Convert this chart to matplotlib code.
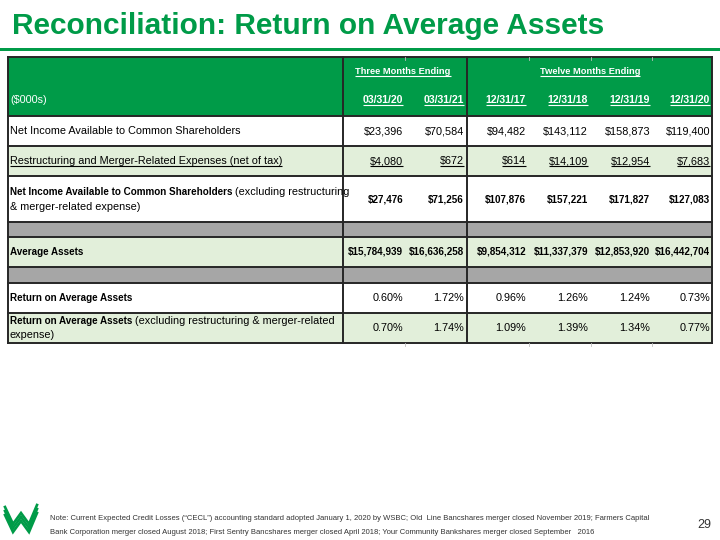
import matplotlib
matplotlib.use("Agg")
import matplotlib.pyplot as plt
from matplotlib.patches import Rectangle

# data
periods = ["03/31/20", "03/31/21", "12/31/17", "12/31/18", "12/31/19", "12/31/20"]
groups = ["Three Months Ending", "Twelve Months Ending"]
net_income = [23396, 70584, 94482, 143112, 158873, 119400]
merger_exp = [4080, 672, 614, 14109, 12954, 7683]
net_income_adj = [27476, 71256, 107876, 157221, 171827, 127083]
avg_assets = [15784939, 16636258, 9854312, 11337379, 12853920, 16442704]
roaa = [0.60, 1.72, 0.96, 1.26, 1.24, 0.73]
roaa_adj = [0.70, 1.74, 1.09, 1.39, 1.34, 0.77]

GREEN = "#009B48"
LIGHT = "#E2EFDA"
GRAY = "#A6A6A6"
EDGE = "#262626"
FONT = ["Liberation Sans", "DejaVu Sans"]
FS = 7.8    # normal text
FSB = 7.1   # bold text

fig = plt.figure(figsize=(7.2, 5.4), dpi=100)
ax = fig.add_axes([0, 0, 1, 1])
ax.set_xlim(0, 720)
ax.set_ylim(540, 0)
ax.axis("off")
renderer = fig.canvas.get_renderer()


def bbox(t):
    return t.get_window_extent(renderer).transformed(ax.transData.inverted())


def underline(t, color, lw=0.8):
    b = bbox(t)
    y = max(b.y0, b.y1) - 0.5
    ax.plot([b.x0, b.x1], [y, y], color=color, lw=lw, solid_capstyle="butt")


def txt(x, y, s, ha="left", bold=False, color="black", size=None, ul=False):
    if size is None:
        size = FSB if bold else FS
    t = ax.text(x, y, s, ha=ha, va="center", fontsize=size, family=FONT,
                fontweight="bold" if bold else "normal", color=color)
    if ul:
        underline(t, color)
    return t


def mixed(x, y, bold_part, rest):
    t = txt(x, y, bold_part, bold=True)
    b = bbox(t)
    txt(b.x1, y, rest)


# title
ax.text(12, 26, "Reconciliation: Return on Average Assets", ha="left", va="center",
        fontsize=21.5, fontweight="bold", color=GREEN,
        family=["Liberation Sans Narrow", "Liberation Sans", "DejaVu Sans"])
ax.add_patch(Rectangle((0, 47.5), 720, 3.5, color=GREEN, lw=0))

# table geometry
left, right = 8, 712
div1, div2 = 343, 467
col_right = [403, 464, 526, 588, 650, 710]
rows = [  # (top, bottom, fill)
    (57, 116, GREEN),
    (116, 146, "white"),
    (146, 176, LIGHT),
    (176, 222, "white"),
    (222, 237, GRAY),
    (237, 267, LIGHT),
    (267, 283, GRAY),
    (283, 313, "white"),
    (313, 343, LIGHT),
]
for top, bot, fc in rows:
    ax.add_patch(Rectangle((left, top), right - left, bot - top, facecolor=fc, lw=0))
for top, bot, fc in rows:
    ax.plot([left, right], [top, top], color=EDGE, lw=1.4)
ax.plot([left, right], [343, 343], color=EDGE, lw=1.4)
for x in [left, div1, div2, right]:
    ax.plot([x, x], [57, 343], color=EDGE, lw=1.4)
# faint column ticks at the top and bottom edges
for x in [405, 529, 591, 652]:
    ax.plot([x, x], [57, 60], color="#BFBFBF", lw=0.6)
    ax.plot([x, x], [343, 346], color="#BFBFBF", lw=0.6)

# header
txt(403, 72, groups[0], ha="center", bold=True, color="white", size=6.7, ul=True)
txt(590, 72, groups[1], ha="center", bold=True, color="white", size=6.7, ul=True)
txt(10, 100, "($000s)", color="white")
for xr, p in zip(col_right, periods):
    txt(xr, 100, p, ha="right", bold=True, color="white", size=7.6, ul=True)

# body
txt(10, 131, "Net Income Available to Common Shareholders")
txt(10, 161, "Restructuring and Merger-Related Expenses (net of tax)", ul=True)
mixed(10, 192, "Net Income Available to Common Shareholders", " (excluding restructuring")
txt(10, 207, "& merger-related expense)")
txt(10, 252, "Average Assets", bold=True)
txt(10, 298, "Return on Average Assets", bold=True)
mixed(10, 321, "Return on Average Assets", " (excluding restructuring & merger-related")
txt(10, 335, "expense)")

for i, xr in enumerate(col_right):
    txt(xr, 131, f"${net_income[i]:,}", ha="right")
    txt(xr, 161, f"${merger_exp[i]:,}", ha="right", ul=True)
    txt(xr, 200, f"${net_income_adj[i]:,}", ha="right", bold=True)
    txt(xr, 252, f"${avg_assets[i]:,}", ha="right", bold=True)
    txt(xr, 298, f"{roaa[i]:.2f}%", ha="right")
    txt(xr, 328, f"{roaa_adj[i]:.2f}%", ha="right")

# footer logo: a striped W
wx = [5, 13, 21, 29, 37]
wy = [511, 528, 517, 528, 509]
for off in (-4, 0, 4):
    ax.plot(wx, [v + off for v in wy], color=GREEN, lw=1.9, solid_joinstyle="miter")

note1 = ("Note: Current Expected Credit Losses (\u201cCECL\u201d) accounting standard adopted "
         "January 1, 2020 by WSBC; Old  Line Bancshares merger closed November 2019; Farmers Capital")
note2 = ("Bank Corporation merger closed August 2018; First Sentry Bancshares merger closed "
         "April 2018; Your Community Bankshares merger closed September   2016")
txt(50, 519, note1, size=5.5, color="#333333")
txt(50, 532, note2, size=5.5, color="#333333")
txt(711, 525, "29", ha="right", size=9, color="#333333")

fig.savefig("out.png", dpi=100)
